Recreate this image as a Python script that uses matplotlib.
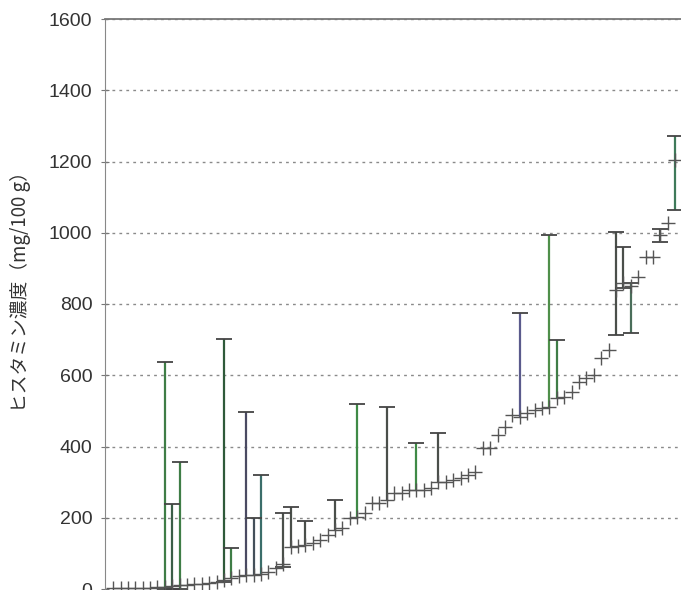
import numpy as np
import matplotlib
matplotlib.use("Agg")
import matplotlib.pyplot as plt

plt.rcParams['font.family'] = ['Liberation Sans', 'Noto Sans CJK JP', 'DejaVu Sans']

# histamine per sample (mg/100 g): median, low, high (sorted by median)
med = [2, 2, 3, 3, 3, 4, 5, 6, 8, 10,
       11, 13, 15, 18, 20, 25, 31, 36, 39, 40,
       42, 48, 60, 70, 118, 120, 123, 129, 137, 151,
       165, 171, 199, 202, 213, 241, 241, 250, 269, 269,
       278, 278, 278, 283, 300, 300, 305, 312, 320, 328,
       396, 396, 432, 455, 488, 483, 494, 502, 508, 511,
       536, 539, 553, 581, 592, 601, 648, 671, 839, 859,
       850, 876, 932, 932, 994, 1027, 1204]
lo = list(med)
hi = list(med)
# samples with a measured range
ranges = {7: (0, 637), 8: (0, 238), 9: (0, 356), 15: (20, 702), 16: (31, 115),
          18: (39, 497), 19: (40, 199), 20: (42, 320), 23: (62, 213),
          24: (118, 230), 26: (123, 191), 30: (165, 250), 33: (202, 519),
          37: (250, 511), 41: (278, 410), 44: (300, 438), 55: (483, 775),
          59: (511, 994), 60: (536, 699), 68: (713, 1002), 69: (845, 960),
          70: (718, 859), 74: (975, 1010), 76: (1064, 1272)}
for i, (a, b) in ranges.items():
    lo[i], hi[i] = a, b

bar_colors = {7: '#3f7d46', 8: '#3b5f48', 9: '#3f7d46', 15: '#2f5a3a', 16: '#3f7d46',
              18: '#4a4a62', 19: '#44505a', 20: '#3b6e6a', 33: '#3f8a46',
              41: '#3f8a46', 55: '#5a5a8c', 59: '#4f8f4a', 60: '#3f7d46',
              70: '#4a6e5a', 76: '#3f7a5a'}

x = np.arange(len(med))
lo = np.array(lo)
hi = np.array(hi)
med = np.array(med)

fig = plt.figure(figsize=(6.81, 5.90), dpi=100)
ax = fig.add_axes([105 / 681, 1 / 590, 576 / 681, 570 / 590])

ax.set_ylim(0, 1600)
ax.set_xlim(-1.1, 76.8)
ax.set_yticks(np.arange(0, 1601, 200))
ax.set_xticks([])
for yv in range(200, 1601, 200):
    ax.axhline(yv, color='#8a8a8a', lw=1, ls=(0, (2, 3)), zorder=1)

colors = [bar_colors.get(i, '#4a4f4a') for i in x]
ax.vlines(x, lo, hi, colors=colors, lw=1.6, zorder=2)
has_range = hi > lo
ax.plot(x[has_range], hi[has_range], ls='none', marker='_', ms=12, mew=1.3, color='#444', zorder=3)
low_cap = lo < med
ax.plot(x[low_cap], lo[low_cap], ls='none', marker='_', ms=12, mew=1.3, color='#444', zorder=3)
ax.plot(x, med, ls='none', marker='+', ms=10, mew=1.0, color='#555', zorder=3)

ax.spines['right'].set_visible(False)
ax.spines['bottom'].set_visible(False)
ax.spines['top'].set_color('#777')
ax.spines['top'].set_linewidth(1.3)
ax.spines['left'].set_color('#888')
ax.tick_params(axis='y', direction='inout', length=6, color='#777', labelsize=14,
               labelcolor='#333', pad=6)

ax.set_ylabel('ヒスタミン濃度（mg/100 g）', fontsize=13.5, color='#333',
              family=['Noto Sans CJK JP', 'DejaVu Sans'])
ax.yaxis.set_label_coords(-0.128, 0.53)

fig.savefig('out.png', dpi=100)
